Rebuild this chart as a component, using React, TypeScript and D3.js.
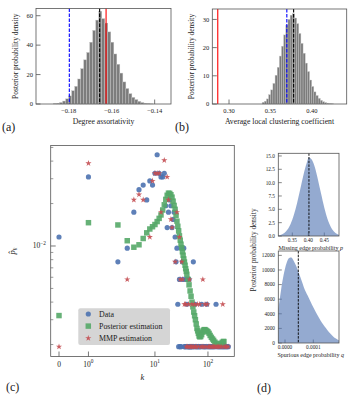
import React from "react";
import * as d3 from "d3";

const FONT = "'Liberation Serif', 'DejaVu Serif', serif";
const SPINE = "#555";
const TXT = "#1a1a1a";
const BLUE = "#4C72B0";
const GREEN = "#55A868";
const RED = "#C44E52";

// ---------- (a) Degree assortativity posterior histogram ----------
const assortBinStart = -0.187;
const assortBinWidth = 0.0014;
const assortDensity = [0.3, 0.5, 1.0, 2.0, 3.5, 5.5, 9, 12, 17, 24, 30, 35, 42, 50, 57, 63, 58, 55, 49, 42, 34, 27, 21, 15, 10.5, 7, 4.5, 3, 1.8, 1.0, 0.5, 0.3, 0.1];
const assortTicksX = [-0.18, -0.16, -0.14];
const assortTicksY = [0, 20, 40, 60];
const assortObserved = -0.1626;
const assortMMP = -0.1797;
const assortMean = -0.1656;

// ---------- (b) Average local clustering posterior histogram ----------
const clustBinStart = 0.34;
const clustBinWidth = 0.0026;
const clustDensity = [0.6, 1.0, 1.8, 3.3, 5.0, 7.3, 10.2, 13, 17, 20.5, 24.5, 28, 30, 31.5, 32, 30.5, 28.5, 25, 21.5, 18, 14.5, 11.5, 8.5, 6.2, 4.3, 3.0, 2.0, 1.3, 0.8, 0.5, 0.3, 0.15, 0.08];
const clustTicksX = [0.3, 0.35, 0.4];
const clustTicksY = [0, 10, 20, 30];
const clustObserved = 0.2864;
const clustMMP = 0.3698;
const clustMean = 0.378;

// ---------- (c) Degree distribution ----------
const N_NODES = 518;
const dataK = [0, 1, 2, 3, 4, 5, 6, 7, 8, 9, 10, 11, 12, 13, 14, 15, 16, 17, 18, 19, 20, 21, 22, 23, 24, 25, 26, 27, 28, 29, 30, 31, 32, 33, 34, 35, 36, 37, 38, 39, 40, 41, 42, 43, 44, 45, 46, 47, 48, 50, 52, 53, 55, 57, 59, 61, 64, 67, 70, 73, 76, 80, 84, 88, 92, 95, 100, 105, 110, 116, 122, 128, 135, 142, 150, 158, 167, 176, 186, 196, 207, 218, 230, 242];
const dataCount = [6, 16, 4, 5, 9, 13, 14, 11, 15, 14, 17, 23, 17, 16, 16, 17, 10, 7, 9, 11, 10, 7, 8, 9, 6, 4, 5, 2, 1, 3, 1, 1, 5, 4, 3, 5, 1, 1, 1, 3, 2, 1, 1, 1, 3, 1, 1, 1, 1, 1, 1, 4, 1, 2, 1, 1, 1, 1, 1, 1, 2, 1, 1, 1, 1, 2, 1, 1, 1, 1, 1, 1, 1, 2, 1, 1, 1, 1, 1, 1, 1, 1, 1, 1];
const mmpK = [0, 1, 3, 4, 5, 6, 8, 9, 10, 11, 12, 13, 15, 17, 18, 20, 21, 24, 26, 29, 30, 32, 33, 36, 38, 39, 41, 43, 44, 45, 47, 49, 50, 52, 54, 56, 58, 60, 63, 66, 70, 74, 78, 80, 84, 88, 92, 97, 102, 108, 114, 120, 127, 134, 142, 150, 159, 168, 178, 190, 200, 212, 225, 240];
const mmpCount = [1, 20, 3, 11, 12, 11, 6, 15, 17, 17, 17, 9, 21, 16, 11, 8, 7, 4, 9, 6, 3, 4, 3, 2, 2, 1, 1, 2, 1, 3, 1, 1, 2, 1, 1, 2, 1, 1, 2, 1, 2, 1, 1, 3, 1, 2, 1, 2, 1, 1, 1, 1, 1, 1, 1, 1, 1, 1, 1, 2, 1, 1, 1, 1];
const postK = [0, 1, 2, 3, 4, 5, 6, 7, 8, 9, 10, 11, 12, 13, 14, 15, 16, 17, 18, 19, 20, 21, 22, 23, 24, 25, 26, 27, 28, 29, 30, 31, 32, 33, 34, 35, 36, 37, 38, 39, 40, 42, 44, 46, 48, 50, 52, 54, 56, 58, 60, 62, 64, 66, 68, 70, 73, 76, 79, 82, 85, 88, 92, 96, 100, 105, 110, 116, 122, 128, 135, 142, 150, 158, 166, 175, 185, 195, 200];
const postP = [0.00321, 0.01463, 0.0141, 0.0109, 0.0098, 0.0102, 0.0113, 0.0124, 0.0132, 0.0137, 0.0142, 0.0149, 0.0157, 0.0166, 0.018, 0.0196, 0.0214, 0.0229, 0.0237, 0.0236, 0.0231, 0.0222, 0.0208, 0.0194, 0.0182, 0.0165, 0.015, 0.0138, 0.0128, 0.0118, 0.011, 0.0103, 0.0097, 0.0091, 0.0086, 0.0081, 0.0077, 0.0073, 0.0069, 0.0066, 0.0063, 0.0058, 0.0053, 0.0048, 0.0044, 0.004, 0.0037, 0.0034, 0.0032, 0.003, 0.0028, 0.0026, 0.0025, 0.0024, 0.0023, 0.00227, 0.00228, 0.00235, 0.00245, 0.00252, 0.00255, 0.00255, 0.00252, 0.00249, 0.00246, 0.0024, 0.00232, 0.00225, 0.00219, 0.00214, 0.00208, 0.00204, 0.002, 0.00199, 0.002, 0.00203, 0.00207, 0.0021, 0.0021];
const legendLabels = ["Data", "Posterior estimation", "MMP estimation"];

// ---------- (d) Missing / spurious edge probability posteriors ----------
const pGrid = [0.306, 0.315, 0.325, 0.335, 0.345, 0.355, 0.365, 0.375, 0.385, 0.395, 0.402, 0.41, 0.42, 0.43, 0.44, 0.45, 0.46, 0.47, 0.48, 0.49, 0.496];
const pDensity = [0.08, 0.22, 0.55, 1.2, 2.3, 4.0, 6.2, 8.8, 11.5, 13.7, 14.7, 14.4, 13.0, 10.6, 7.9, 5.3, 3.2, 1.75, 0.85, 0.37, 0.2];
const pMean = 0.402;
const pTicksX = [0.35, 0.4, 0.45];
const pTicksY = [0, 2.5, 5, 7.5, 10, 12.5, 15];
const qGrid = [-0.0000237, -0.000015, -0.000005, 0.000005, 0.000015, 0.000022, 0.00003, 0.00004, 0.000047, 0.00006, 0.00007, 0.00008, 0.00009, 0.0001, 0.00011, 0.00012, 0.00013, 0.00014, 0.00015, 0.00016, 0.00017, 0.00018, 0.000188, 0.0001908];
const qDensity = [4600, 7000, 9300, 10900, 11650, 11700, 11300, 10500, 9800, 8400, 7300, 6500, 5700, 4900, 4150, 3450, 2800, 2250, 1750, 1300, 900, 600, 420, 380];
const qMean = 0.000047;
const qTicksX = [0, 0.0001];
const qTicksY = [0, 2000, 4000, 6000, 8000, 10000, 12000];

const minus = (s: string) => s.replace("-", "\u2212");

function Frame({ l, r, t, b }: { l: number; r: number; t: number; b: number }) {
  return <rect x={l} y={t} width={r - l} height={b - t} fill="none" stroke={SPINE} strokeWidth={0.8} />;
}

function HistPanel(props: {
  l: number; r: number; t: number; b: number;
  xDomain: [number, number]; yMax: number;
  binStart: number; binWidth: number; heights: number[];
  xTicks: number[]; yTicks: number[]; xFmt: string;
  observed: number; mmp: number; mean: number;
  xLabel: string; yLabelX: number; letter: string; letterX: number;
}) {
  const { l, r, t, b } = props;
  const x = d3.scaleLinear().domain(props.xDomain).range([l, r]);
  const y = d3.scaleLinear().domain([0, props.yMax]).range([b, t]);
  const fmt = d3.format(props.xFmt);
  const cx = (l + r) / 2;
  const cy = (t + b) / 2;
  return (
    <g>
      {props.xTicks.map((v) => (
        <g key={"xt" + v}>
          <line x1={x(v)} x2={x(v)} y1={b} y2={b - 4.5} stroke={SPINE} strokeWidth={0.8} />
          <text x={x(v)} y={b + 9} fontSize={6.5} textAnchor="middle" fill={TXT}>{minus(fmt(v))}</text>
        </g>
      ))}
      {props.yTicks.map((v) => (
        <g key={"yt" + v}>
          <line x1={l} x2={l + 4.5} y1={y(v)} y2={y(v)} stroke={SPINE} strokeWidth={0.8} />
          <text x={l - 3} y={y(v) + 2.3} fontSize={6.5} textAnchor="end" fill={TXT}>{v}</text>
        </g>
      ))}
      {props.heights.map((h, i) => {
        const x0 = props.binStart + i * props.binWidth;
        return (
          <rect key={i} x={x(x0)} y={y(h)} width={x(x0 + props.binWidth) - x(x0)} height={b - y(h)}
            fill="#7c7c7c" stroke="#c4c4c4" strokeWidth={0.4} />
        );
      })}
      <line x1={x(props.mmp)} x2={x(props.mmp)} y1={t} y2={b} stroke="#0000ff" strokeWidth={1.1} strokeDasharray="3.5,1.5" />
      <line x1={x(props.mean)} x2={x(props.mean)} y1={t} y2={b} stroke="#000" strokeWidth={1.1} strokeDasharray="3.5,1.5" />
      <line x1={x(props.observed)} x2={x(props.observed)} y1={t} y2={b} stroke="#ff0000" strokeWidth={1.1} />
      <Frame l={l} r={r} t={t} b={b} />
      <text x={cx} y={b + 19.5} fontSize={7.7} textAnchor="middle" fill={TXT}>{props.xLabel}</text>
      <text transform={`translate(${props.yLabelX},${cy}) rotate(-90)`} fontSize={7.5} textAnchor="middle" dy="0.35em" fill={TXT}>Posterior probability density</text>
      <text x={props.letterX} y={131} fontSize={12} fill={TXT}>{props.letter}</text>
    </g>
  );
}

const LINTHRESH = 2;
const LINSCALE_ADJ = 1 / (1 - 1 / 10);
function symlogT(v: number) {
  const a = Math.abs(v);
  return a <= LINTHRESH ? v * LINSCALE_ADJ : Math.sign(v) * LINTHRESH * (LINSCALE_ADJ + Math.log10(a / LINTHRESH));
}

function DegreePanel() {
  const l = 50.7, r = 234.3, t = 145.5, b = 356.5;
  const xs = d3.scaleLinear().domain([symlogT(-0.282), symlogT(314)]).range([l, r]);
  const x = (k: number) => xs(symlogT(k));
  const y = d3.scaleLog().domain([0.001645, 0.05162]).range([b, t]);
  const circle = d3.symbol(d3.symbolCircle, 21)()!;
  const square = d3.symbol(d3.symbolSquare, 30)()!;
  const star = d3.symbol(d3.symbolStar, 12)()!;
  const minorY: number[] = [];
  [-3, -2].forEach((d) => {
    for (let m = 2; m <= 9; m++) {
      const v = m * Math.pow(10, d);
      if (v > 0.001645 && v < 0.05162) minorY.push(v);
    }
  });
  const xTicks = [
    { v: 0, base: "0", sup: "" },
    { v: 1, base: "10", sup: "0" },
    { v: 10, base: "10", sup: "1" },
    { v: 100, base: "10", sup: "2" },
  ];
  const legendMarks = [circle, square, star];
  const legendColors = [BLUE, GREEN, RED];
  return (
    <g>
      {xTicks.map((tk) => (
        <g key={tk.v}>
          <line x1={x(tk.v)} x2={x(tk.v)} y1={b} y2={b - 5} stroke={SPINE} strokeWidth={0.8} />
          <text x={x(tk.v)} y={b + 10} fontSize={7.5} textAnchor="middle" fill={TXT}>
            {tk.base}
            {tk.sup && <tspan fontSize={5.3} dy={-3.2}>{tk.sup}</tspan>}
          </text>
        </g>
      ))}
      {minorY.map((v) => (
        <line key={v} x1={l} x2={l + 2.6} y1={y(v)} y2={y(v)} stroke={SPINE} strokeWidth={0.6} />
      ))}
      <line x1={l} x2={l + 5} y1={y(0.01)} y2={y(0.01)} stroke={SPINE} strokeWidth={0.8} />
      <text x={46} y={y(0.01) + 2.5} fontSize={7.5} textAnchor="end" fill={TXT}>
        10<tspan fontSize={5.3} dy={-3.2}>{"\u22122"}</tspan>
      </text>
      {dataK.map((k, i) => (
        <path key={"d" + i} d={circle} transform={`translate(${x(k)},${y(dataCount[i] / N_NODES)})`} fill={BLUE} fillOpacity={0.9} />
      ))}
      {postK.map((k, i) => (
        <path key={"p" + i} d={square} transform={`translate(${x(k)},${y(postP[i])})`} fill={GREEN} fillOpacity={0.9} />
      ))}
      {mmpK.map((k, i) => (
        <path key={"m" + i} d={star} transform={`translate(${x(k)},${y(mmpCount[i] / N_NODES)})`} fill={RED} fillOpacity={0.9} />
      ))}
      <rect x={78.3} y={308.3} width={91.7} height={36.7} rx={2} fill="#d5d5d5" />
      {legendLabels.map((lab, i) => (
        <g key={lab}>
          <path d={legendMarks[i]} transform={`translate(88.3,${314 + i * 12.1})`} fill={legendColors[i]} fillOpacity={0.9} />
          <text x={99} y={314 + i * 12.1 + 2.7} fontSize={7.9} fill={TXT}>{lab}</text>
        </g>
      ))}
      <Frame l={l} r={r} t={t} b={b} />
      <text x={(l + r) / 2} y={379.5} fontSize={8.5} fontStyle="italic" textAnchor="middle" fill={TXT}>k</text>
      <text transform={`translate(12,${(t + b) / 2}) rotate(-90)`} fontSize={8.5} textAnchor="middle" dy="0.35em" fill={TXT}>
        <tspan fontStyle="italic">{"p\u0302"}</tspan>
        <tspan fontStyle="italic" fontSize={6} dy={1.8}>k</tspan>
      </text>
      <text x={6} y={391} fontSize={12} fill={TXT}>(c)</text>
    </g>
  );
}

function KdePanel(props: {
  t: number; b: number; xDomain: [number, number]; yMax: number;
  grid: number[]; dens: number[]; mean: number;
  xTicks: number[]; yTicks: number[]; xFmt: string; yFmt: string;
  xLabel: string; varName: string;
}) {
  const l = 278.3, r = 339;
  const { t, b } = props;
  const x = d3.scaleLinear().domain(props.xDomain).range([l, r]);
  const y = d3.scaleLinear().domain([0, props.yMax]).range([b, t]);
  const area = d3.area<number>().x((_, i) => x(props.grid[i])).y0(b).y1((d) => y(d)).curve(d3.curveMonotoneX);
  const xf = d3.format(props.xFmt);
  const yf = d3.format(props.yFmt);
  return (
    <g>
      {props.xTicks.map((v) => (
        <g key={"x" + v}>
          <line x1={x(v)} x2={x(v)} y1={b} y2={b - 3.5} stroke={SPINE} strokeWidth={0.7} />
          <text x={x(v)} y={b + 6.3} fontSize={5.3} textAnchor="middle" fill={TXT}>{xf(v)}</text>
        </g>
      ))}
      {props.yTicks.map((v) => (
        <g key={"y" + v}>
          <line x1={l} x2={l + 3.5} y1={y(v)} y2={y(v)} stroke={SPINE} strokeWidth={0.7} />
          <text x={275} y={y(v) + 1.9} fontSize={5.3} textAnchor="end" fill={TXT}>{yf(v)}</text>
        </g>
      ))}
      <path d={area(props.dens) || ""} fill={BLUE} fillOpacity={0.6} />
      <line x1={x(props.mean)} x2={x(props.mean)} y1={t} y2={b} stroke="#000" strokeWidth={0.9} strokeDasharray="2.5,1.2" />
      <Frame l={l} r={r} t={t} b={b} />
      <text x={(l + r) / 2 + 2} y={b + 13.5} fontSize={6} textAnchor="middle" fill={TXT}>
        {props.xLabel} <tspan fontStyle="italic">{props.varName}</tspan>
      </text>
    </g>
  );
}

export default function App() {
  return (
    <svg width={349} height={398} fontFamily={FONT}
      style={{ display: "block", position: "absolute", left: 0, top: 0, background: "#fff" }}>
      <HistPanel l={36} r={171} t={8.5} b={104} xDomain={[-0.1952, -0.1324]} yMax={64.9}
        binStart={assortBinStart} binWidth={assortBinWidth} heights={assortDensity}
        xTicks={assortTicksX} yTicks={assortTicksY} xFmt=".2f"
        observed={assortObserved} mmp={assortMMP} mean={assortMean}
        xLabel="Degree assortativity" yLabelX={15.3} letter="(a)" letterX={2} />
      <HistPanel l={212.3} r={346.7} t={9} b={104} xDomain={[0.2798, 0.4421]} yMax={33.7}
        binStart={clustBinStart} binWidth={clustBinWidth} heights={clustDensity}
        xTicks={clustTicksX} yTicks={clustTicksY} xFmt=".2f"
        observed={clustObserved} mmp={clustMMP} mean={clustMean}
        xLabel="Average local clustering coefficient" yLabelX={191.7} letter="(b)" letterX={175} />
      <DegreePanel />
      <KdePanel t={153.3} b={236} xDomain={[0.30625, 0.4959]} yMax={15.5}
        grid={pGrid} dens={pDensity} mean={pMean} xTicks={pTicksX} yTicks={pTicksY}
        xFmt=".2f" yFmt=".1f" xLabel="Missing edge probability" varName="p" />
      <KdePanel t={251} b={343} xDomain={[-0.0000237, 0.0001908]} yMax={12600}
        grid={qGrid} dens={qDensity} mean={qMean} xTicks={qTicksX} yTicks={qTicksY}
        xFmt=".4f" yFmt="d" xLabel="Spurious edge probability" varName="q" />
      <text transform="translate(253,250) rotate(-90)" fontSize={7.3} textAnchor="middle" dy="0.35em" fill={TXT}>
        Posterior probability density
      </text>
      <text x={257} y={392} fontSize={12} fill={TXT}>(d)</text>
    </svg>
  );
}
